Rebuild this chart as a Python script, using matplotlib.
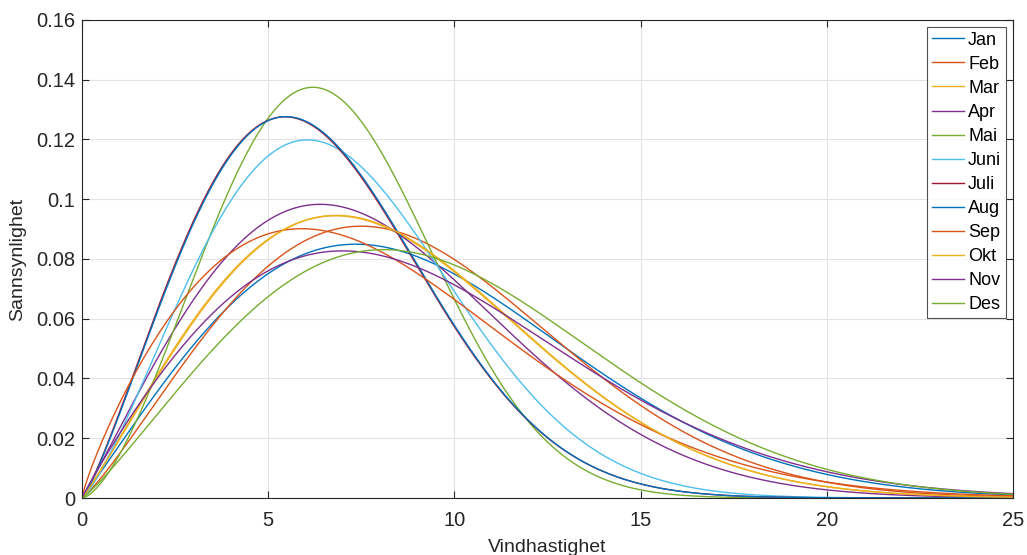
import numpy as np
import matplotlib.pyplot as plt

plt.rcParams['font.family'] = ['Liberation Sans', 'DejaVu Sans']

# Weibull parameters per month (shape k, scale c)
months = ["Jan", "Feb", "Mar", "Apr", "Mai", "Juni", "Juli",
          "Aug", "Sep", "Okt", "Nov", "Des"]
shape_k = [2.04, 2.17, 2.08, 2.05, 2.57, 2.27, 2.20,
           2.21, 1.84, 2.09, 1.94, 2.15]
scale_c = [10.23, 9.97, 9.32, 8.87, 7.51, 7.82, 7.18,
           7.20, 9.04, 9.34, 10.17, 10.84]

colors = ["#0072BD", "#D95319", "#EDB120", "#7E2F8E", "#77AC30", "#4DBEEE",
          "#A2142F"]

v = np.linspace(0, 25, 500)

fig = plt.figure(figsize=(10.27, 5.55), dpi=100)
ax = fig.add_axes([0.0798, 0.1027, 0.9065, 0.8613])

for i, (name, k, c) in enumerate(zip(months, shape_k, scale_c)):
    pdf = (k / c) * (v / c) ** (k - 1) * np.exp(-(v / c) ** k)
    ax.plot(v, pdf, color=colors[i % len(colors)], lw=1.0, label=name)

ax.set_xlim(0, 25)
ax.set_ylim(0, 0.16)
ax.set_xticks([0, 5, 10, 15, 20, 25])
ax.set_yticks(np.arange(0, 0.161, 0.02))
ax.set_yticklabels(["0", "0.02", "0.04", "0.06", "0.08", "0.1", "0.12", "0.14", "0.16"])
ax.grid(True, color="#e3e3e3", lw=0.8)
ax.set_axisbelow(True)
ax.tick_params(direction="in", top=True, right=True, labelsize=14.5, colors="#262626",
               length=5, width=0.8)
ax.tick_params(axis="x", pad=9)
ax.tick_params(axis="y", pad=5)
for s in ax.spines.values():
    s.set_color("#262626")
    s.set_linewidth(0.8)

ax.set_xlabel("Vindhastighet", fontsize=14, color="#262626", labelpad=7)
ax.set_ylabel("Sannsynlighet", fontsize=14, color="#262626", labelpad=7)

leg = ax.legend(loc="upper right", fontsize=13, frameon=True, fancybox=False,
                edgecolor="#262626", handlelength=1.75, handletextpad=0.25,
                labelspacing=0.39, borderpad=0.25, borderaxespad=0.4)
leg.get_frame().set_linewidth(0.8)

fig.savefig("out.png", dpi=100)
